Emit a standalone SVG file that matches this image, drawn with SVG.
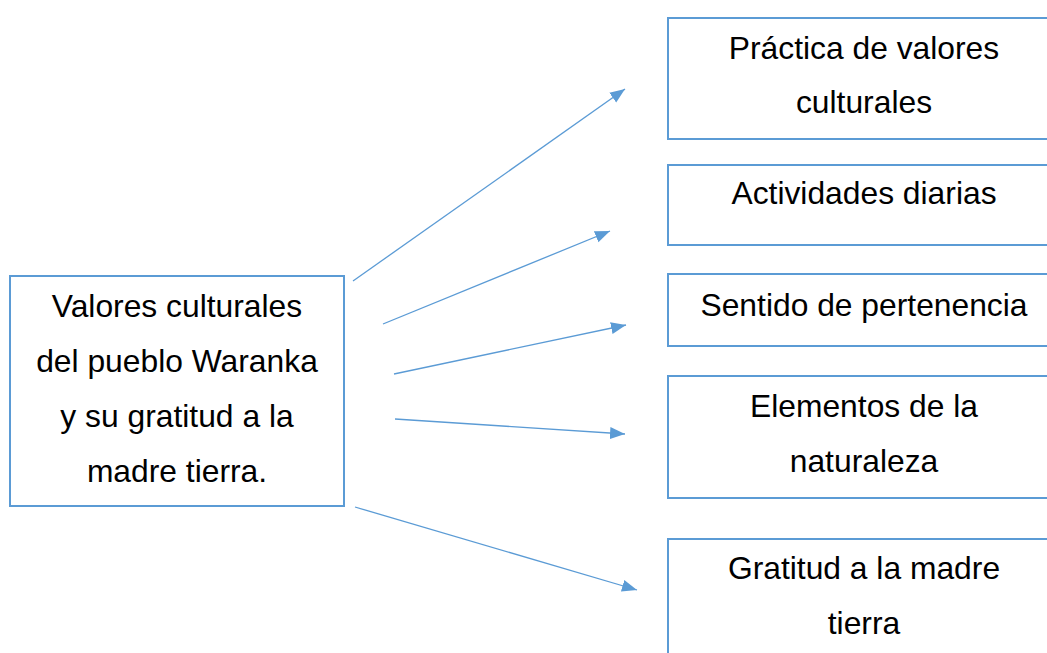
<svg xmlns="http://www.w3.org/2000/svg" width="1047" height="653" viewBox="0 0 1047 653">
<style>
.box{fill:#fff;stroke:#5B9BD5;stroke-width:2}
.t{font-family:"Liberation Sans",Arial,sans-serif;font-size:31.8px;fill:#000;text-anchor:middle}
.c{stroke:#5B9BD5;stroke-width:1.3;fill:none;marker-end:url(#ah)}
</style>
<defs>
<marker id="ah" markerUnits="userSpaceOnUse" markerWidth="16" markerHeight="14" viewBox="0 0 16 14" refX="15" refY="7" orient="auto">
<path d="M0,1 L15,7 L0,13 Z" fill="#5B9BD5"/>
</marker>
</defs>
<rect width="1047" height="653" fill="#fff"/>
<g id="n0">
<rect class="box" x="10" y="276" width="334" height="230"/>
<text class="t" x="177" y="316.5">Valores culturales</text>
<text class="t" x="177" y="371.5">del pueblo Waranka</text>
<text class="t" x="177" y="426.5">y su gratitud a la</text>
<text class="t" x="177" y="482">madre tierra.</text>
</g>
<g id="n1">
<rect class="box" x="668" y="18" width="400" height="121"/>
<text class="t" x="864" y="59">Práctica de valores</text>
<text class="t" x="864" y="113">culturales</text>
</g>
<g id="n2">
<rect class="box" x="668" y="165" width="400" height="80"/>
<text class="t" x="864" y="204">Actividades diarias</text>
</g>
<g id="n3">
<rect class="box" x="668" y="274" width="400" height="72"/>
<text class="t" x="864" y="315.5">Sentido de pertenencia</text>
</g>
<g id="n4">
<rect class="box" x="668" y="376" width="400" height="122"/>
<text class="t" x="864" y="416.5">Elementos de la</text>
<text class="t" x="864" y="471.5">naturaleza</text>
</g>
<g id="n5">
<rect class="box" x="668" y="539" width="400" height="130"/>
<text class="t" x="864" y="579">Gratitud a la madre</text>
<text class="t" x="864" y="634">tierra</text>
</g>
<g id="connectors">
<line class="c" x1="353" y1="281" x2="625" y2="89"/>
<line class="c" x1="383" y1="324" x2="610" y2="231"/>
<line class="c" x1="394" y1="374" x2="626" y2="325"/>
<line class="c" x1="395" y1="419" x2="625" y2="434"/>
<line class="c" x1="355" y1="507" x2="637" y2="590"/>
</g>
</svg>
